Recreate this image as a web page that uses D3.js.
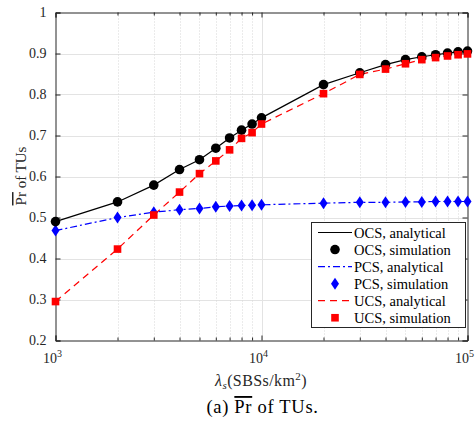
<!DOCTYPE html>
<html><head><meta charset="utf-8">
<script src="https://cdn.jsdelivr.net/npm/d3@7"></script>
<style>body{margin:0;background:#fff}svg{display:block}</style>
</head><body><svg id="c" width="475" height="422"></svg>
<script>
const lambdaValues = [1000,2000,3000,4000,5000,6000,7000,8000,9000,10000,20000,30000,40000,50000,60000,70000,80000,90000,100000];
const ocsAnalytical = [0.490,0.538,0.579,0.617,0.641,0.669,0.694,0.713,0.728,0.743,0.824,0.853,0.873,0.885,0.892,0.897,0.901,0.904,0.906];
const ocsSimulation = [0.490,0.538,0.579,0.617,0.641,0.669,0.694,0.713,0.728,0.743,0.824,0.853,0.873,0.885,0.892,0.897,0.901,0.904,0.906];
const pcsAnalytical = [0.468,0.500,0.513,0.519,0.522,0.526,0.528,0.529,0.530,0.531,0.535,0.537,0.537,0.538,0.538,0.539,0.539,0.539,0.539];
const pcsSimulation = [0.468,0.500,0.513,0.519,0.522,0.526,0.528,0.529,0.530,0.531,0.535,0.537,0.537,0.538,0.538,0.539,0.539,0.539,0.539];
const ucsAnalytical = [0.295,0.423,0.506,0.562,0.607,0.638,0.665,0.693,0.707,0.728,0.802,0.849,0.862,0.875,0.885,0.890,0.894,0.897,0.899];
const ucsSimulation = [0.295,0.423,0.506,0.562,0.607,0.638,0.665,0.693,0.707,0.728,0.802,0.849,0.862,0.875,0.885,0.890,0.894,0.897,0.899];
const yTicks = [0.2,0.3,0.4,0.5,0.6,0.7,0.8,0.9,1];
const yTickLabels = ["0.2","0.3","0.4","0.5","0.6","0.7","0.8","0.9","1"];
const xMajorTicks = [1000,10000,100000];
const xMajorExponents = ["3","4","5"];
const legendLabels = ["OCS, analytical","OCS, simulation","PCS, analytical","PCS, simulation","UCS, analytical","UCS, simulation"];

const svg = d3.select("#c");
const L = 55.5, T = 12.5, R = 467.5, B = 340.5;
const x = d3.scaleLog().domain([1000,100000]).range([L,R]);
const y = d3.scaleLinear().domain([0.2,1]).range([B,T]);
const axisColor = "#262626";
const font = "'Liberation Serif','Times New Roman',serif";

const minor = [];
[1000,10000].forEach(d=>{for(let k=2;k<=9;k++) minor.push(d*k);});

const g = svg.append("g");
g.selectAll(".hg").data(yTicks.slice(1,-1)).enter().append("line")
  .attr("x1",L).attr("x2",R).attr("y1",d=>Math.round(y(d))+0.5).attr("y2",d=>Math.round(y(d))+0.5)
  .attr("stroke","#e3e3e3").attr("stroke-width",1);
g.selectAll(".vg").data(minor).enter().append("line")
  .attr("x1",d=>Math.round(x(d))+0.5).attr("x2",d=>Math.round(x(d))+0.5).attr("y1",T).attr("y2",B)
  .attr("stroke","#d6d6d6").attr("stroke-width",1).attr("stroke-dasharray","1,2");
g.selectAll(".vm").data([10000]).enter().append("line")
  .attr("x1",d=>Math.round(x(d))+0.5).attr("x2",d=>Math.round(x(d))+0.5).attr("y1",T).attr("y2",B)
  .attr("stroke","#e3e3e3").attr("stroke-width",1);

const yAxisL = d3.axisLeft(y).tickValues(yTicks).tickSize(-5).tickFormat((d,i)=>yTickLabels[i]).tickPadding(9);
const yAxisR = d3.axisRight(y).tickValues(yTicks).tickSize(-5).tickFormat("");
const xAxisB = d3.axisBottom(x).tickValues(xMajorTicks).tickSize(-5).tickFormat("");
const xAxisBm = d3.axisBottom(x).tickValues(minor).tickSize(-3).tickFormat("");
const xAxisT = d3.axisTop(x).tickValues(xMajorTicks).tickSize(-5).tickFormat("");
const xAxisTm = d3.axisTop(x).tickValues(minor).tickSize(-3).tickFormat("");

function style(sel){
  sel.selectAll("path").attr("stroke",axisColor).attr("stroke-width",1);
  sel.selectAll("line").attr("stroke",axisColor).attr("stroke-width",1);
  sel.selectAll("text").attr("fill",axisColor).style("font-family",font).style("font-size","14px");
}
style(svg.append("g").attr("transform",`translate(${L},0)`).call(yAxisL));
style(svg.append("g").attr("transform",`translate(${R},0)`).call(yAxisR));
style(svg.append("g").attr("transform",`translate(0,${B})`).call(xAxisB));
style(svg.append("g").attr("transform",`translate(0,${B})`).call(xAxisBm).call(s=>s.select("path").remove()));
style(svg.append("g").attr("transform",`translate(0,${T})`).call(xAxisT));
style(svg.append("g").attr("transform",`translate(0,${T})`).call(xAxisTm).call(s=>s.select("path").remove()));

const xl = svg.append("g");
xMajorTicks.forEach((d,i)=>{
  const t = xl.append("text").attr("x",x(d)-3).attr("y",363).attr("text-anchor","middle")
    .attr("fill",axisColor).style("font-family",font).style("font-size","14px");
  t.append("tspan").text("10");
  t.append("tspan").attr("dy",-6).style("font-size","10px").text(xMajorExponents[i]);
});

const data = (arr)=>lambdaValues.map((v,i)=>[v,arr[i]]);
const line = d3.line().x(d=>x(d[0])).y(d=>y(d[1]));
const plot = svg.append("g");
plot.append("path").datum(data(ucsAnalytical)).attr("d",line).attr("fill","none").attr("stroke","#ff0000").attr("stroke-width",1.2).attr("stroke-dasharray","7,5");
plot.append("path").datum(data(pcsAnalytical)).attr("d",line).attr("fill","none").attr("stroke","#0000ff").attr("stroke-width",1.2).attr("stroke-dasharray","7,3,2,3");
plot.append("path").datum(data(ocsAnalytical)).attr("d",line).attr("fill","none").attr("stroke","#000000").attr("stroke-width",1.2);

const diamond = "M0,-6 L4,0 L0,6 L-4,0 Z";
plot.selectAll(".pm").data(data(pcsSimulation)).enter().append("path")
  .attr("transform",d=>`translate(${x(d[0])},${y(d[1])})`).attr("d",diamond).attr("fill","#0000ff");
plot.selectAll(".om").data(data(ocsSimulation)).enter().append("circle")
  .attr("cx",d=>x(d[0])).attr("cy",d=>y(d[1])).attr("r",4.8).attr("fill","#000");
plot.selectAll(".um").data(data(ucsSimulation)).enter().append("rect")
  .attr("x",d=>x(d[0])-3.8).attr("y",d=>y(d[1])-3.8).attr("width",7.6).attr("height",7.6).attr("fill","#ff0000");

const lg = svg.append("g");
lg.append("rect").attr("x",311.5).attr("y",222.5).attr("width",154).attr("height",105)
  .attr("fill","#fff").attr("stroke",axisColor).attr("stroke-width",1);
const rowY = i => 232.5 + i*17.05;
const lx1 = 318, lx2 = 352, lmx = 335;
lg.append("line").attr("x1",lx1).attr("x2",lx2).attr("y1",rowY(0)).attr("y2",rowY(0)).attr("stroke","#000").attr("stroke-width",1.2);
lg.append("circle").attr("cx",lmx).attr("cy",rowY(1)).attr("r",4.8).attr("fill","#000");
lg.append("line").attr("x1",lx1).attr("x2",lx2).attr("y1",rowY(2)).attr("y2",rowY(2)).attr("stroke","#0000ff").attr("stroke-width",1.2).attr("stroke-dasharray","7,3,2,3");
lg.append("path").attr("transform",`translate(${lmx},${rowY(3)})`).attr("d",diamond).attr("fill","#0000ff");
lg.append("line").attr("x1",lx1).attr("x2",lx2).attr("y1",rowY(4)).attr("y2",rowY(4)).attr("stroke","#ff0000").attr("stroke-width",1.2).attr("stroke-dasharray","7,5");
lg.append("rect").attr("x",lmx-3.8).attr("y",rowY(5)-3.8).attr("width",7.6).attr("height",7.6).attr("fill","#ff0000");
lg.selectAll(".lt").data(legendLabels).enter().append("text")
  .attr("x",354).attr("y",(d,i)=>rowY(i)+5).text(d=>d)
  .attr("fill","#000").style("font-family",font).style("font-size","14.5px");

const xt = svg.append("text").attr("x",261).attr("y",386).attr("text-anchor","middle")
  .attr("fill",axisColor).style("font-family",font).style("font-size","16px").style("letter-spacing","0.4px");
xt.append("tspan").style("font-style","italic").text("λ");
xt.append("tspan").attr("dy",3).style("font-style","italic").style("font-size","11px").text("s");
xt.append("tspan").attr("dy",-3).text("(SBSs/km");
xt.append("tspan").attr("dy",-6).style("font-size","11px").text("2");
xt.append("tspan").attr("dy",6).text(")");

const yt = svg.append("text").attr("transform","translate(26,176) rotate(-90)").attr("text-anchor","middle")
  .attr("fill",axisColor).style("font-family",font).style("font-size","15px");
yt.append("tspan").style("text-decoration","overline").text("Pr");
yt.append("tspan").text(" of TUs");

const cap = svg.append("text").attr("x",262.5).attr("y",413).attr("text-anchor","middle")
  .attr("fill","#000").style("font-family",font).style("font-size","18.5px").style("letter-spacing","0.7px");
cap.append("tspan").text("(a) ");
cap.append("tspan").style("text-decoration","overline").text("Pr");
cap.append("tspan").text(" of TUs.");
</script></body></html>
